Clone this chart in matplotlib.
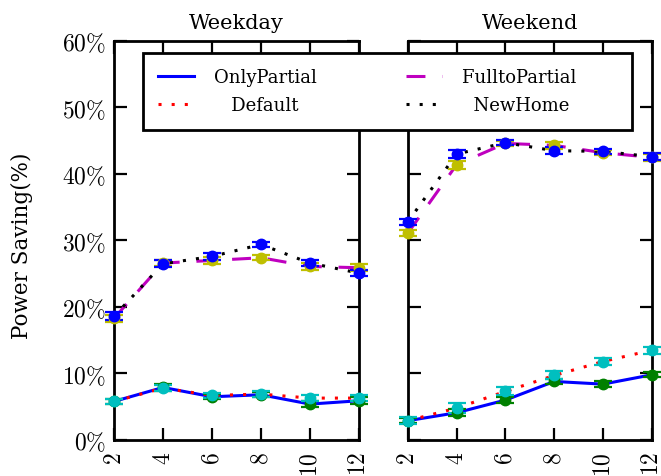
import matplotlib
matplotlib.use("Agg")
import matplotlib.pyplot as plt
from matplotlib.lines import Line2D

plt.rcParams['mathtext.fontset'] = 'cm'
plt.rcParams['font.family'] = ['DejaVu Serif']

x = [2, 4, 6, 8, 10, 12]
xticks = [2, 4, 6, 8, 10, 12]
yticks = [0, 10, 20, 30, 40, 50, 60]
ytick_labels = [r'$0\%$', r'$10\%$', r'$20\%$', r'$30\%$', r'$40\%$', r'$50\%$', r'$60\%$']
panels = ['Weekday', 'Weekend']

# Weekday
wd_only = [5.8, 7.9, 6.5, 6.8, 5.4, 5.9]
wd_default = [5.8, 7.8, 6.7, 6.9, 6.3, 6.3]
wd_full = [18.3, 26.6, 27.0, 27.4, 26.1, 25.9]
wd_new = [18.6, 26.5, 27.6, 29.4, 26.6, 25.1]
wd_only_err = [0.4, 0.5, 0.4, 0.4, 0.4, 0.5]
wd_default_err = [0.4, 0.5, 0.4, 0.4, 0.5, 0.5]
wd_full_err = [0.5, 0.5, 0.5, 0.4, 0.5, 0.5]
wd_new_err = [0.6, 0.5, 0.5, 0.4, 0.5, 0.5]

# Weekend
we_only = [2.9, 4.1, 6.0, 8.8, 8.4, 9.8]
we_default = [2.9, 4.8, 7.3, 9.7, 11.8, 13.5]
we_full = [31.1, 41.4, 44.6, 44.3, 43.2, 42.5]
we_new = [32.8, 43.0, 44.7, 43.5, 43.4, 42.6]
we_only_err = [0.4, 0.5, 0.4, 0.4, 0.4, 0.4]
we_default_err = [0.5, 0.8, 0.6, 0.6, 0.5, 0.5]
we_full_err = [0.5, 0.6, 0.4, 0.5, 0.4, 0.5]
we_new_err = [0.5, 0.6, 0.4, 0.5, 0.4, 0.5]

data = [
    (wd_only, wd_default, wd_full, wd_new, wd_only_err, wd_default_err, wd_full_err, wd_new_err),
    (we_only, we_default, we_full, we_new, we_only_err, we_default_err, we_full_err, we_new_err),
]

fig = plt.figure(figsize=(6.61, 4.77), dpi=100)
positions = [[0.1725, 0.0755, 0.3705, 0.8365], [0.617, 0.0755, 0.369, 0.8365]]

lw = 2.2
dot = (1, 3.3)
dash = (6.2, 5.5)
for i, (pos, title, d) in enumerate(zip(positions, panels, data)):
    ax = fig.add_axes(pos)
    only, default, full, new, oe, de, fe, ne = d
    ax.plot(x, only, color='blue', lw=lw, solid_capstyle='butt', zorder=2)
    ax.plot(x, default, color='red', lw=lw, dashes=dot, zorder=2)
    ax.plot(x, full, color='m', lw=lw, dashes=dash, zorder=2)
    ax.plot(x, new, color='black', lw=lw, dashes=dot, zorder=2)
    for vals, errs, c in [(only, oe, 'g'), (default, de, 'c'), (full, fe, 'y'), (new, ne, 'b')]:
        ax.errorbar(x, vals, yerr=errs, fmt='o', color=c, ms=7.5, capsize=6.5,
                    capthick=1.6, elinewidth=1.6, zorder=3, clip_on=False)
    ax.set_xlim(2, 12)
    ax.set_ylim(0, 60)
    ax.set_xticks(xticks)
    ax.set_xticklabels([r'$%d$' % t for t in xticks], rotation=90, fontsize=17)
    ax.set_yticks(yticks)
    if i == 0:
        ax.set_yticklabels(ytick_labels, fontsize=17)
        ax.set_ylabel('Power Saving(%)', fontsize=15.5)
        ax.yaxis.set_label_coords(-0.33, 0.49)
    else:
        ax.set_yticklabels([])
    ax.tick_params(direction='in', length=9, width=1.6, top=True, right=True)
    ax.tick_params(axis='x', pad=8)
    ax.tick_params(axis='y', pad=6)
    for s in ax.spines.values():
        s.set_linewidth(2)
    ax.set_title(title, fontsize=15, pad=9)

handles = [
    Line2D([], [], color='blue', lw=lw),
    Line2D([], [], color='red', lw=lw, dashes=dot),
    Line2D([], [], color='m', lw=lw, dashes=dash),
    Line2D([], [], color='black', lw=lw, dashes=dot),
]
labels = ['OnlyPartial', '   Default', 'FulltoPartial       ', '  NewHome']
leg = fig.legend(handles, labels, ncol=2, loc='upper left',
                 bbox_to_anchor=(143 / 661, 1 - 54 / 477),
                 fontsize=13, frameon=True, fancybox=False, edgecolor='black',
                 framealpha=1, handlelength=2.0, handletextpad=1.1,
                 columnspacing=4.9, borderaxespad=0,
                 labelspacing=0.55, borderpad=0.85)
leg.get_frame().set_linewidth(2)

fig.savefig('out.png', dpi=100)
